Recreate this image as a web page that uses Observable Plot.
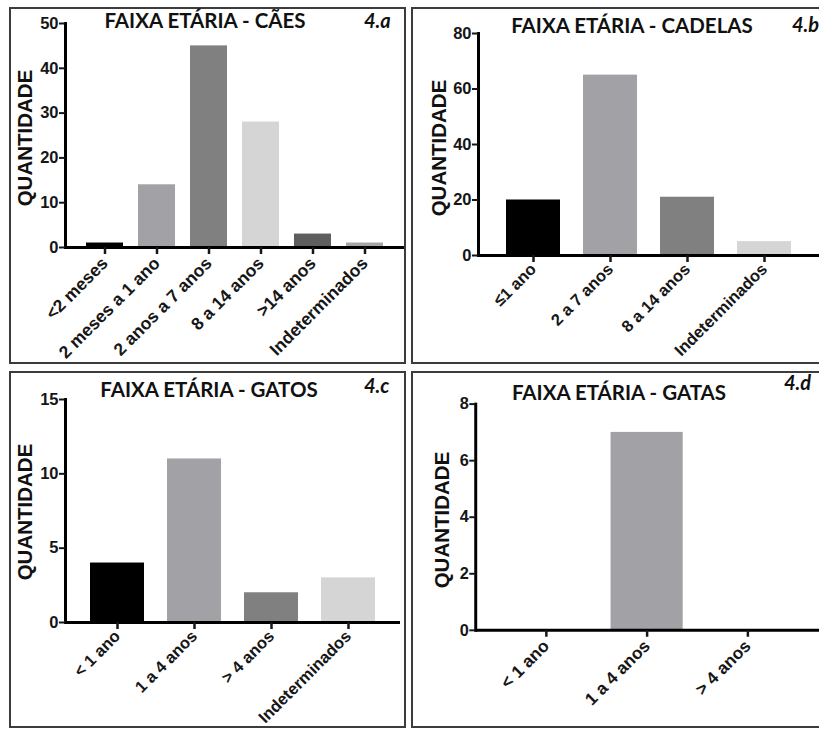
<!DOCTYPE html>
<html><head><meta charset="utf-8">
<script src="https://cdn.jsdelivr.net/npm/d3@7"></script>
<script src="https://cdn.jsdelivr.net/npm/@observablehq/plot@0.6"></script>
<style>
html,body{margin:0;padding:0;background:#fff}
body{width:819px;height:729px;overflow:hidden;position:relative}
.panel{position:absolute;border:2px solid #3c3c3c;box-sizing:border-box;overflow:hidden;background:#fff}
.panel svg{position:absolute;left:0;top:0}
#overlay{position:absolute;left:0;top:0;pointer-events:none}
</style></head>
<body>
<script>
// ---- data ----
const caesCats = ["<2 meses", "2 meses a 1 ano", "2 anos a 7 anos", "8 a 14 anos", ">14 anos", "Indeterminados"];
const caesVals = [1, 14, 45, 28, 3, 1];
const caesColors = ["#000000", "#a2a2a6", "#808080", "#d5d5d5", "#5e5e5e", "#a6a6a6"];
const caesTicks = [0, 10, 20, 30, 40, 50];

const cadelasCats = ["\u22641 ano", "2 a 7 anos", "8 a 14 anos", "Indeterminados"];
const cadelasVals = [20, 65, 21, 5];
const cadelasColors = ["#000000", "#a2a2a6", "#808080", "#d5d5d5"];
const cadelasTicks = [0, 20, 40, 60, 80];

const gatosCats = ["< 1 ano", "1 a 4 anos", "> 4 anos", "Indeterminados"];
const gatosVals = [4, 11, 2, 3];
const gatosColors = ["#000000", "#a2a2a6", "#808080", "#d5d5d5"];
const gatosTicks = [0, 5, 10, 15];

const gatasCats = ["< 1 ano", "1 a 4 anos", "> 4 anos"];
const gatasVals = [0, 7, 0];
const gatasColors = ["#000000", "#a2a2a6", "#808080"];
const gatasTicks = [0, 2, 4, 6, 8];

const titles = ["FAIXA ETÁRIA - CÃES", "FAIXA ETÁRIA - CADELAS", "FAIXA ETÁRIA - GATOS", "FAIXA ETÁRIA - GATAS"];
const tags = ["4.a", "4.b", "4.c", "4.d"];
const yLabel = "QUANTIDADE";

// ---- layout ----
const panels = [
  {cats: caesCats, vals: caesVals, colors: caesColors, ticks: caesTicks,
   box: [9, 7, 397, 357], width: 393, height: 353, ml: 54, mt: 14, mb: 115, mr: 0, pi: 0.28, po: 0.345, xfs: 17.5, xpad: 6,
   title: [205, 28], tag: [364, 28], ylab: [25, 138]},
  {cats: cadelasCats, vals: cadelasVals, colors: cadelasColors, ticks: cadelasTicks,
   box: [411, 7, 410, 357], width: 406, height: 353, ml: 65, mt: 24, mb: 107, mr: 0, pi: 0.30, po: 0.35, xfs: 16.5, xpad: 4,
   title: [632, 33], tag: [792, 32], ylab: [439, 148]},
  {cats: gatosCats, vals: gatosVals, colors: gatosColors, ticks: gatosTicks,
   box: [9, 371, 397, 357], width: 393, height: 353, ml: 54, mt: 26, mb: 104, mr: 4, pi: 0.30, po: 0.317, xfs: 16.5, xpad: 4,
   title: [209, 397], tag: [364, 393], ylab: [25, 512]},
  {cats: gatasCats, vals: gatasVals, colors: gatasColors, ticks: gatasTicks,
   box: [411, 371, 410, 357], width: 411, height: 353, ml: 63, mt: 31, mb: 93, mr: 0, pi: 0.28, po: 0.33, xfs: 17.5, xpad: 6,
   title: [619, 400], tag: [784, 390], ylab: [442, 520]}
];

panels.forEach((p, i) => {
  const data = p.cats.map((c, k) => ({cat: c, val: p.vals[k], color: p.colors[k]}));
  const div = document.createElement("div");
  div.className = "panel";
  div.style.left = p.box[0] + "px";
  div.style.top = p.box[1] + "px";
  div.style.width = p.box[2] + "px";
  div.style.height = p.box[3] + "px";
  const chart = Plot.plot({
    width: p.width, height: p.height,
    marginLeft: p.ml, marginTop: p.mt, marginBottom: p.mb, marginRight: p.mr,
    style: {fontFamily: "'Liberation Sans', Arial, sans-serif", color: "#161616", background: "transparent", overflow: "visible"},
    x: {domain: p.cats, paddingInner: p.pi, paddingOuter: p.po, label: null},
    y: {domain: [0, p.ticks[p.ticks.length - 1]], label: null},
    color: {type: "identity"},
    marks: [
      Plot.barY(data, {x: "cat", y: "val", fill: "color"}),
      Plot.frame({anchor: "left", strokeWidth: 3, stroke: "#000"}),
      Plot.ruleY([0], {strokeWidth: 3, stroke: "#000"}),
      Plot.axisY({ticks: p.ticks, tickSize: 6, tickPadding: 1, fontSize: 16.5, fontWeight: "bold", strokeWidth: 2, label: null}),
      Plot.axisX({tickRotate: -45, tickSize: 7, tickPadding: p.xpad, fontSize: p.xfs, fontWeight: "bold", strokeWidth: 2.5, label: null})
    ]
  });
  div.appendChild(chart);
  document.body.appendChild(div);
});

// overlay with titles, tags, y labels
const svg = d3.select("body").append("svg").attr("id", "overlay").attr("width", 819).attr("height", 729);
panels.forEach((p, i) => {
  svg.append("text").attr("x", p.title[0]).attr("y", p.title[1]).attr("text-anchor", "middle")
    .attr("font-family", "Lato, 'Open Sans', sans-serif").attr("font-weight", 700).attr("font-size", 20.5)
    .attr("fill", "#111").text(titles[i]);
  svg.append("text").attr("x", p.tag[0]).attr("y", p.tag[1])
    .attr("font-family", "Lato, 'Open Sans', sans-serif").attr("font-weight", 700).attr("font-style", "italic").attr("font-size", 20)
    .attr("fill", "#111").text(tags[i]);
  svg.append("text").attr("transform", `translate(${p.ylab[0]},${p.ylab[1]}) rotate(-90)`)
    .attr("text-anchor", "middle").attr("dy", "0.36em")
    .attr("font-family", "'Liberation Sans', Arial, sans-serif").attr("font-weight", 700).attr("font-size", 20.5)
    .attr("fill", "#111").text(yLabel);
});
</script>
</body></html>
